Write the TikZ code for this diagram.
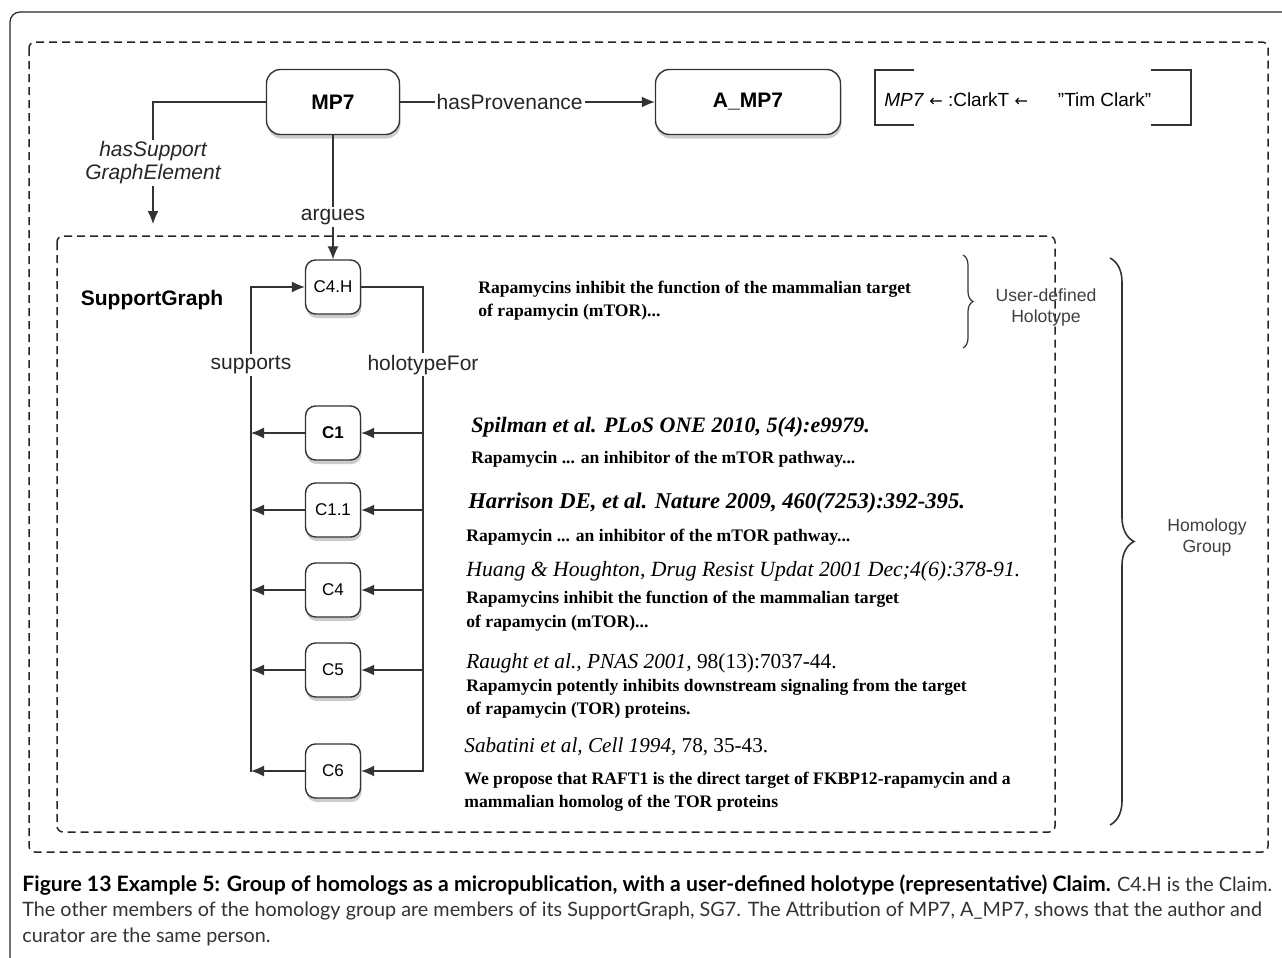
\documentclass[tikz,border=0pt]{standalone}
\usepackage{fontspec}
\setmainfont{Liberation Serif}
\setsansfont{Liberation Sans}
\newfontfamily\capfont{Lato}
\newfontfamily\symfont{DejaVu Sans}
\usetikzlibrary{arrows.meta,shadows,decorations.pathreplacing}
\tikzset{
  claim/.style={draw=black!80,line width=0.7pt,rounded corners=5pt,fill=white,minimum width=27.5pt,minimum height=27pt,inner sep=0pt,font=\sffamily\fontsize{8.5}{10}\selectfont,drop shadow={opacity=0.4,shadow xshift=0.5pt,shadow yshift=-2pt}},
  entity/.style={claim,rounded corners=7pt,minimum height=32.5pt,font=\sffamily\bfseries\fontsize{10.5}{12}\selectfont},
  lbl/.style={fill=white,inner sep=1pt,font=\sffamily\fontsize{10.5}{12}\selectfont,text=black!85},
  quote/.style={anchor=west,align=left,inner sep=0pt,font=\bfseries\fontsize{8.8}{11.5}\selectfont},
  cite/.style={anchor=west,inner sep=0pt,font=\itshape\fontsize{10.7}{12}\selectfont},
  grp/.style={draw=black!85,line width=0.75pt,dash pattern=on 4pt off 2.5pt,rounded corners=3pt},
  link/.style={draw=black!80,line width=0.6pt},
  arr/.style={link,-{Latex[length=6.5pt,width=5.5pt]}},
  bracegrp/.style={draw=black!80,line width=0.6pt,decorate},
}
\begin{document}
\begin{tikzpicture}[x=0.5pt,y=-0.5pt]
\useasboundingbox(0,0)rectangle(1282,958);
\draw[black!85,line width=0.6pt,rounded corners=5pt](10,958)|-(1282,12);
\draw[grp](29,42)rectangle(1268,852);
\draw[grp](57,236)rectangle(1055,832);

\node[entity,minimum width=66.5pt](mp7)at(333,102){MP7};
\node[entity,minimum width=92.5pt](amp7)at(748,102){A\_MP7};
\node[font=\sffamily\fontsize{9.5}{11}\selectfont,anchor=west,inner sep=0pt](attr)at(884,100){\textit{MP7} {\symfont\fontsize{8}{10}\selectfont←} :ClarkT {\symfont\fontsize{8}{10}\selectfont←}\hspace{15pt}\char"0022 Tim Clark\char"0022};
\draw[link,line width=0.7pt](914,70)--(875,70)--(875,125)--(914,125);
\draw[link,line width=0.7pt](1151,70)--(1191,70)--(1191,125)--(1151,125);

\node[claim](c4h)at(333,287){C4.H};
\node[claim,font=\sffamily\bfseries\fontsize{8.5}{10}\selectfont](c1)at(333,433){C1};
\node[claim](c11)at(333,510){C1.1};
\node[claim](c4)at(333,590){C4};
\node[claim](c5)at(333,670){C5};
\node[claim](c6)at(333,771){C6};
\node[font=\sffamily\bfseries\fontsize{10.5}{12}\selectfont](sgl)at(152,300){SupportGraph};

\coordinate(sg)at(153,224);
\coordinate(sb)at(251,772);
\coordinate(hb)at(423,772);

\draw[arr](mp7)--(amp7)node[lbl,pos=0.43]{hasProvenance};
\draw[arr](mp7.west)-|(sg)node[lbl,pos=0.75,align=center,font=\sffamily\itshape\fontsize{10.5}{11.5}\selectfont]{hasSupport\\GraphElement};
\draw[arr](mp7)--(c4h)node[lbl,pos=0.66]{argues};
\draw[arr](sb)|-(c4h)node[lbl,pos=0.42]{supports};
\draw[link](c4h)-|(hb)node[lbl,pos=0.58]{holotypeFor};
\draw[arr](c1-|hb)--(c1);
\draw[arr](c1)--(c1-|sb);
\draw[arr](c11-|hb)--(c11);
\draw[arr](c11)--(c11-|sb);
\draw[arr](c4-|hb)--(c4);
\draw[arr](c4)--(c4-|sb);
\draw[arr](c5-|hb)--(c5);
\draw[arr](c5)--(c5-|sb);
\draw[arr](c6-|hb)--(c6);
\draw[arr](c6)--(c6-|sb);

\node[quote](q0)at(478,301){Rapamycins inhibit the function of the mammalian target\\of rapamycin (mTOR)...};
\node[cite,font=\bfseries\itshape\fontsize{11}{12}\selectfont](r1)at(471,427){Spilman et al. PLoS ONE 2010, 5(4):e9979.};
\node[quote](q1)at(471,459){Rapamycin ... an inhibitor of the mTOR pathway...};
\node[cite,font=\bfseries\itshape\fontsize{11.3}{13}\selectfont](r2)at(468,503){Harrison DE, et al. Nature 2009, 460(7253):392-395.};
\node[quote](q2)at(466,537){Rapamycin ... an inhibitor of the mTOR pathway...};
\node[cite,font=\itshape\fontsize{10.85}{12}\selectfont](r3)at(466,571){Huang \& Houghton, Drug Resist Updat 2001 Dec;4(6):378-91.};
\node[quote,font=\bfseries\fontsize{8.8}{12}\selectfont](q3)at(466,611){Rapamycins inhibit the function of the mammalian target\\of rapamycin (mTOR)...};
\node[cite](r4)at(466,663){Raught et al., PNAS 2001, \upshape 98(13):7037-44.};
\node[quote](q4)at(466,698.5){Rapamycin potently inhibits downstream signaling from the target\\of rapamycin (TOR) proteins.};
\node[cite,font=\itshape\fontsize{10.6}{12}\selectfont](r5)at(464,747){Sabatini et al, Cell 1994, \upshape 78, 35-43.};
\node[quote](q5)at(464,791.5){We propose that RAFT1 is the direct target of FKBP12-rapamycin and a\\mammalian homolog of the TOR proteins};

\draw[bracegrp,decoration={brace,amplitude=5pt}](963,255)--(963,348);
\node[font=\sffamily\fontsize{8.8}{10.5}\selectfont,text=black!75,align=center](udh)at(1046,307){User-defined\\Holotype};
\draw[bracegrp,line width=0.8pt,decoration={brace,amplitude=12pt}](1110,258)--(1110,825);
\node[font=\sffamily\fontsize{8.8}{10.5}\selectfont,text=black!75,align=center](hg)at(1207,537){Homology\\Group};

\node[anchor=north west,inner sep=0pt,align=left,text=black!80,font=\capfont\fontsize{9.9}{12.8}\selectfont](cap)at(22,874){\textcolor{black}{\fontsize{10.6}{12.8}\selectfont\bfseries Figure 13 Example 5: Group of homologs as a micropublication, with a user-defined holotype (representative) Claim.} C4.H is the Claim.\\The other members of the homology group are members of its SupportGraph, SG7. The Attribution of MP7, A\_MP7, shows that the author and\\curator are the same person.};
\end{tikzpicture}
\end{document}
